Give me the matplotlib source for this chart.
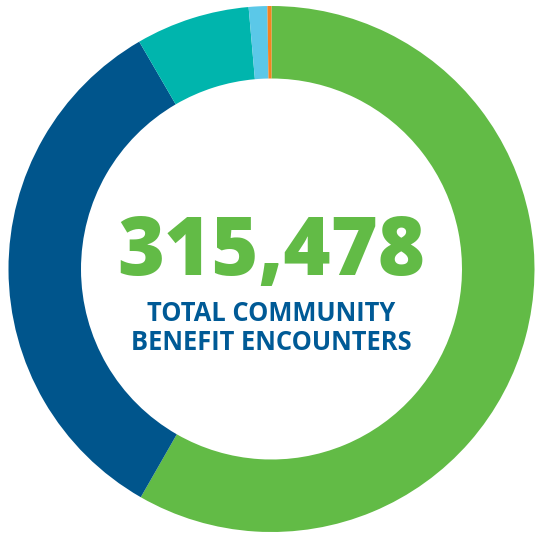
import matplotlib
matplotlib.use("Agg")
import matplotlib.pyplot as plt

categories = ["Green", "Dark blue", "Teal", "Light blue", "Orange"]
values = [183860, 105160, 22080, 3590, 790]
colors = ["#62BB46", "#00558C", "#00B5AD", "#5BC8E8", "#F58220"]
total_label = "315,478"
subtitle = ["TOTAL COMMUNITY", "BENEFIT ENCOUNTERS"]

W, H = 535, 538
fig = plt.figure(figsize=(W / 100, H / 100), dpi=100)
ax = fig.add_axes([0, 0, 1, 1])

cx, cy = 271.5, 269
R_out, R_in = 263, 190.5
# y axis is inverted below, so counterclock in data coords looks clockwise on screen
ax.pie(values, colors=colors, startangle=-90, counterclock=True,
       center=(cx, cy), radius=R_out,
       wedgeprops=dict(width=R_out - R_in, linewidth=0), frame=True)
ax.set_aspect("equal")
ax.set_xlim(0, W)
ax.set_ylim(H, 0)
ax.axis("off")

ax.text(cx, 275, total_label, ha="center", va="baseline", color="#62BB46",
        fontsize=58, fontweight=900, family="Open Sans")
ax.text(cx, 321, subtitle[0], ha="center", va="baseline", color="#005A96",
        fontsize=18.4, fontweight="bold", family="Open Sans")
ax.text(cx, 350, subtitle[1], ha="center", va="baseline", color="#005A96",
        fontsize=18.4, fontweight="bold", family="Open Sans")

fig.savefig("out.png", dpi=100, facecolor="white")
